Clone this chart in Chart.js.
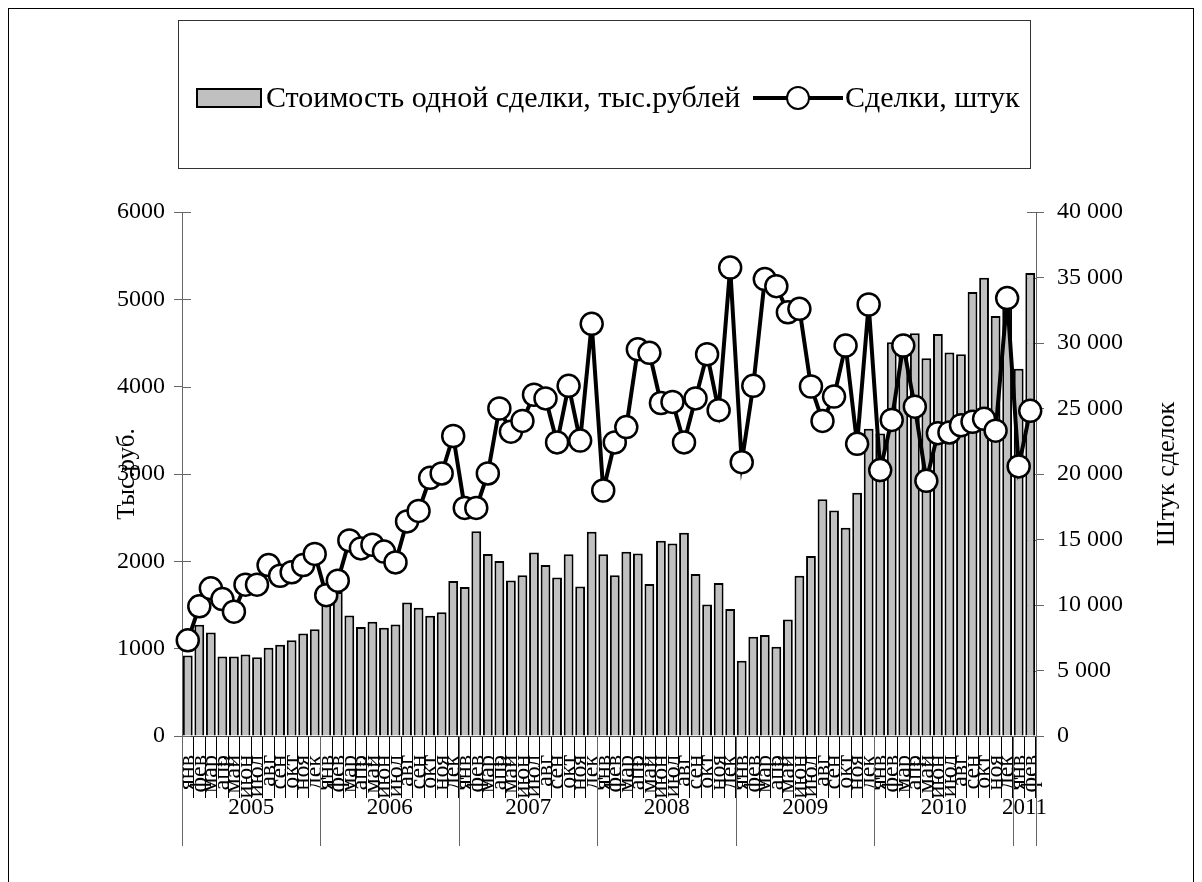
<!DOCTYPE html>
<html lang="ru">
<head>
<meta charset="utf-8">
<script src="https://cdn.jsdelivr.net/npm/chart.js@4.4.1/dist/chart.umd.min.js"></script>
<style>
  html, body { margin: 0; padding: 0; background: #fff; }
  #wrap { position: relative; width: 1202px; height: 882px; overflow: hidden; }
  #frame { position: absolute; left: 8px; top: 8px; width: 1186px; height: 890px; border: 1px solid #000; box-sizing: border-box; }
  #chart { position: absolute; left: 0; top: 0; }
  #legend { position: absolute; left: 178px; top: 20px; width: 853px; height: 149px; border: 1px solid #333; box-sizing: border-box;
            font-family: "Liberation Serif", "Times New Roman", serif; font-size: 30px; color: #000; }
  #legend .box { position: absolute; left: 17px; top: 67px; width: 66px; height: 20px; background: #c0c0c0; border: 2px solid #000; box-sizing: border-box; }
  #legend .txt { position: absolute; top: 57px; line-height: 38px; white-space: nowrap; }
  #legend .sym { position: absolute; left: 574px; top: 64px; width: 90px; height: 26px; }
  #legend .sym .ln { position: absolute; left: 0; top: 11px; width: 90px; height: 4px; background: #000; }
  #legend .sym .pt { position: absolute; left: 33px; top: 1px; width: 24px; height: 24px; border: 2.5px solid #000; border-radius: 50%; background: #fff; box-sizing: border-box; }
</style>
</head>
<body>
<div id="wrap">
  <div id="frame"></div>
  <canvas id="chart" width="1202" height="882"></canvas>
  <div id="legend">
    <div class="box"></div>
    <div class="txt" style="left: 87px;">Стоимость одной сделки, тыс.рублей</div>
    <div class="sym"><div class="ln"></div><div class="pt"></div></div>
    <div class="txt" style="left: 666px;">Сделки, штук</div>
  </div>
</div>
<script>
const monthNames = ['янв', 'фев', 'мар', 'апр', 'май', 'июн', 'июл', 'авг', 'сен', 'окт', 'ноя', 'дек'];
const years = ['2005', '2006', '2007', '2008', '2009', '2010', '2011'];
const monthsInYear = [12, 12, 12, 12, 12, 12, 2];

// Стоимость одной сделки, тыс. рублей (левая ось)
const dealCost = [
    922, 1275, 1185, 910, 910, 932, 903, 1010, 1045, 1097, 1175, 1222,
    1560, 1650, 1380, 1247, 1309, 1239, 1276, 1530, 1468, 1378, 1418, 1774,
    1705, 2345, 2085, 2005, 1781, 1842, 2101, 1957, 1814, 2080, 1711, 2339,
    2080, 1842, 2109, 2089, 1740, 2236, 2204, 2327, 1855, 1506, 1752, 1453,
    862, 1137, 1157, 1022, 1334, 1834, 2060, 2712, 2581, 2384, 2786, 3517,
    3463, 4510, 4520, 4612, 4325, 4604, 4391, 4370, 5084, 5248, 4810, 4980,
    4206, 5302
];

// Сделки, штук (правая ось)
const dealCount = [
    7300, 9900, 11270, 10450, 9490, 11550, 11550, 13050, 12230, 12500, 13050, 13900,
    10750, 11860, 14930, 14320, 14600, 14080, 13250, 16380, 17180, 19710, 20040, 22900,
    17410, 17410, 20040, 25000, 23230, 24050, 26050, 25770, 22410, 26730, 22550, 31460,
    18740, 22410, 23580, 29520, 29250, 25420, 25500, 22410, 25770, 29140, 24870, 35760,
    20900, 26730, 34880, 34340, 32340, 32610, 26680, 24050, 25910, 29800, 22300, 32940,
    20300, 24130, 29800, 25140, 19480, 23120, 23170, 23720, 23990, 24210, 23310, 33430,
    20580, 24820
];

const leftTitle = 'Тыс.руб.';
const rightTitle = 'Штук сделок';

const labels = [];
monthsInYear.forEach(n => {
    for (let i = 0; i < n; i++) labels.push(monthNames[i]);
});

const serif = 'Liberation Serif';

function spaced(v) {
    return String(v).replace(/\B(?=(\d{3})+(?!\d))/g, ' ');
}

// inner half of the crossing tick marks on both value axes
const innerTicks = {
    id: 'innerTicks',
    beforeDatasetsDraw(chart) {
        const ctx = chart.ctx;
        ctx.save();
        ctx.strokeStyle = '#666';
        ctx.lineWidth = 1;
        ['y', 'y1'].forEach(id => {
            const s = chart.scales[id];
            const dir = id === 'y' ? 1 : -1;
            const x0 = id === 'y' ? s.right : s.left;
            s.ticks.forEach(t => {
                const py = Math.round(s.getPixelForValue(t.value)) + 0.5;
                ctx.beginPath();
                ctx.moveTo(x0, py);
                ctx.lineTo(x0 + dir * 9, py);
                ctx.stroke();
            });
        });
        ctx.restore();
    }
};

// second row of the category axis (years) and the right title, read bottom-up
const yearRow = {
    id: 'yearRow',
    afterDraw(chart) {
        const xs = chart.scales.x;
        const ys = chart.scales.y1;
        const ctx = chart.ctx;
        const half = (xs.getPixelForValue(1) - xs.getPixelForValue(0)) / 2;
        const top = xs.top;
        ctx.save();
        ctx.strokeStyle = '#666';
        ctx.lineWidth = 1;
        ctx.fillStyle = '#000';
        ctx.font = '23px "' + serif + '"';
        ctx.textAlign = 'center';
        ctx.textBaseline = 'middle';
        let start = 0;
        let b = 0;
        years.forEach((yr, k) => {
            const a = xs.getPixelForValue(start) - half;
            b = xs.getPixelForValue(start + monthsInYear[k] - 1) + half;
            const la = Math.round(a) + 0.5;
            ctx.beginPath();
            ctx.moveTo(la, top);
            ctx.lineTo(la, top + 110);
            ctx.stroke();
            ctx.fillText(yr, (a + b) / 2, top + 72);
            start += monthsInYear[k];
        });
        const lb = Math.round(b) + 0.5;
        ctx.beginPath();
        ctx.moveTo(lb, top);
        ctx.lineTo(lb, top + 110);
        ctx.stroke();

        ctx.translate(ys.right - 13, (ys.top + ys.bottom) / 2);
        ctx.rotate(-Math.PI / 2);
        ctx.font = '26px "' + serif + '"';
        ctx.fillText(rightTitle, 0, 0);
        ctx.restore();
    }
};

const ctx = document.getElementById('chart').getContext('2d');
new Chart(ctx, {
    type: 'bar',
    data: {
        labels: labels,
        datasets: [{
            type: 'line',
            label: 'Сделки, штук',
            data: dealCount,
            yAxisID: 'y1',
            borderColor: '#000',
            borderWidth: 4,
            pointRadius: 11,
            pointHoverRadius: 11,
            pointBackgroundColor: '#fff',
            pointBorderColor: '#000',
            pointBorderWidth: 2.5,
            tension: 0,
            order: 1
        }, {
            label: 'Стоимость одной сделки, тыс.рублей',
            data: dealCost,
            yAxisID: 'y',
            backgroundColor: '#c0c0c0',
            borderColor: '#000',
            borderWidth: 2,
            barPercentage: 0.85,
            categoryPercentage: 1,
            order: 2
        }]
    },
    options: {
        responsive: false,
        animation: false,
        layout: { padding: { left: 112, right: 22, top: 212, bottom: 0 } },
        plugins: {
            legend: { display: false },
            tooltip: { enabled: false }
        },
        scales: {
            x: {
                grid: { offset: true, drawOnChartArea: false, tickLength: 62, color: '#000', lineWidth: 1 },
                border: { color: '#444' },
                ticks: {
                    autoSkip: false, minRotation: 90, maxRotation: 90, padding: -43,
                    color: '#000', font: { family: serif, size: 24 }
                },
                afterFit(s) { s.height = 146; }
            },
            y: {
                position: 'left',
                min: 0, max: 6000,
                ticks: { stepSize: 1000, padding: 9, color: '#000', font: { family: serif, size: 24 }, callback: v => String(v) },
                grid: { drawOnChartArea: false, tickLength: 8, color: '#666' },
                border: { color: '#666' },
                title: { display: true, text: leftTitle, padding: 0, color: '#000', font: { family: serif, size: 25 } },
                afterFit(s) { s.width = 70; }
            },
            y1: {
                position: 'right',
                min: 0, max: 40000,
                ticks: { stepSize: 5000, padding: 13, color: '#000', font: { family: serif, size: 24 }, callback: v => spaced(v) },
                grid: { drawOnChartArea: false, tickLength: 8, color: '#666' },
                border: { color: '#666' },
                afterFit(s) { s.width = 144; }
            }
        }
    },
    plugins: [innerTicks, yearRow]
});
</script>
</body>
</html>
